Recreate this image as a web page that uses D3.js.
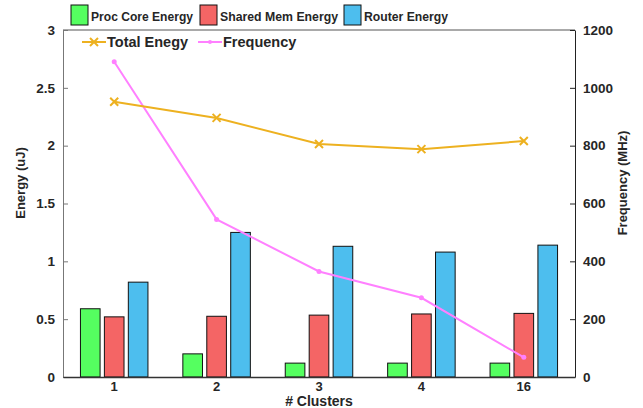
<!DOCTYPE html>
<html>
<head>
<meta charset="utf-8">
<script src="https://cdn.jsdelivr.net/npm/d3@7"></script>
<style>
  body { margin: 0; background: #fff; }
  text { font-family: 'Liberation Sans', Arial, Helvetica, sans-serif; font-weight: bold; fill: #262626; }
</style>
</head>
<body>
<div id="chart"></div>
<script>
// data
const clusters = ['1', '2', '3', '4', '16'];
const seriesNames = ['Proc Core Energy', 'Shared Mem Energy', 'Router Energy'];
const procCore = [0.59, 0.20, 0.12, 0.12, 0.12];
const sharedMem = [0.52, 0.525, 0.535, 0.545, 0.55];
const router = [0.82, 1.25, 1.13, 1.08, 1.14];
const totalEnergy = [2.38, 2.24, 2.015, 1.97, 2.04];
const frequency = [1090, 545, 365, 274, 68];
const energyTicks = [0, 0.5, 1, 1.5, 2, 2.5, 3];
const freqTicks = [0, 200, 400, 600, 800, 1000, 1200];

const config = {
  width: 643,
  height: 408,
  margin: { top: 30, right: 68, bottom: 31, left: 63 },
  colors: ['#55ff60', '#f46565', '#4dbeee'],
  totalColor: '#edb120',
  freqColor: '#ff80ff'
};

const svg = d3.select('#chart')
  .append('svg')
  .attr('width', config.width)
  .attr('height', config.height);

const plotL = config.margin.left;
const plotR = config.width - config.margin.right;
const plotT = config.margin.top;
const plotB = config.height - config.margin.bottom;

const x = d3.scaleBand().domain(clusters).range([plotL, plotR]).padding(0);
const groupW = 67.5;
const xSub = d3.scaleBand()
  .domain(seriesNames)
  .range([(x.bandwidth() - groupW) / 2, (x.bandwidth() + groupW) / 2])
  .paddingInner(0.18);
const yL = d3.scaleLinear().domain([0, 3]).range([plotB, plotT]);
const yR = d3.scaleLinear().domain([0, 1200]).range([plotB, plotT]);

const table = clusters.map((c, i) => ({
  cluster: c,
  values: [procCore[i], sharedMem[i], router[i]]
}));

// bars
const groups = svg.selectAll('g.group')
  .data(table)
  .enter()
  .append('g')
  .attr('class', 'group')
  .attr('transform', d => `translate(${x(d.cluster)},0)`);

groups.selectAll('rect')
  .data(d => d.values.map((v, k) => ({ name: seriesNames[k], value: v, k: k })))
  .enter()
  .append('rect')
  .attr('x', d => xSub(d.name))
  .attr('width', xSub.bandwidth())
  .attr('y', d => yL(d.value))
  .attr('height', d => yL(0) - yL(d.value))
  .style('fill', d => config.colors[d.k])
  .style('stroke', '#111')
  .style('stroke-width', 1);

// axes frame
svg.append('line').attr('x1', plotL).attr('x2', plotR).attr('y1', plotT).attr('y2', plotT)
  .style('stroke', '#555').style('stroke-width', 1);

const yAxisL = d3.axisLeft(yL).tickValues(energyTicks).tickSizeInner(-5).tickSizeOuter(0).tickPadding(8)
  .tickFormat(d => d3.format('')(d));
svg.append('g')
  .attr('class', 'axis yL')
  .attr('transform', `translate(${plotL},0)`)
  .call(yAxisL);

const yAxisR = d3.axisRight(yR).tickValues(freqTicks).tickSizeInner(-5).tickSizeOuter(0).tickPadding(8)
  .tickFormat(d3.format('d'));
svg.append('g')
  .attr('class', 'axis yR')
  .attr('transform', `translate(${plotR},0)`)
  .call(yAxisR);

const xAxis = d3.axisBottom(x).tickSize(0).tickPadding(5);
svg.append('g')
  .attr('class', 'axis x')
  .attr('transform', `translate(0,${plotB})`)
  .call(xAxis);

svg.selectAll('.axis text').style('font-size', '13.5px').style('fill', '#262626')
  .style('font-family', "'Liberation Sans', Arial, sans-serif");
svg.selectAll('.x text').style('font-size', '13px');
svg.selectAll('.yL .domain').style('stroke', '#777');
svg.selectAll('.yL .tick line').style('stroke', '#777');
svg.selectAll('.yR .domain, .yR .tick line').style('stroke', '#222');
svg.selectAll('.x .domain').style('stroke', '#333').style('stroke-width', 1.6);

// lines
const cx = d => x(d) + x.bandwidth() / 2;
const totalLine = d3.line().x((d, i) => cx(clusters[i])).y(d => yL(d));
const freqLine = d3.line().x((d, i) => cx(clusters[i])).y(d => yR(d));

svg.append('path')
  .datum(frequency)
  .attr('d', freqLine)
  .style('fill', 'none')
  .style('stroke', config.freqColor)
  .style('stroke-width', 2);
svg.selectAll('circle.freq')
  .data(frequency)
  .enter()
  .append('circle')
  .attr('class', 'freq')
  .attr('cx', (d, i) => cx(clusters[i]))
  .attr('cy', d => yR(d))
  .attr('r', 2.5)
  .style('fill', config.freqColor);

svg.append('path')
  .datum(totalEnergy)
  .attr('d', totalLine)
  .style('fill', 'none')
  .style('stroke', config.totalColor)
  .style('stroke-width', 2);
const cross = 'M-4,-4L4,4M4,-4L-4,4';
svg.selectAll('path.total')
  .data(totalEnergy)
  .enter()
  .append('path')
  .attr('class', 'total')
  .attr('d', cross)
  .attr('transform', (d, i) => `translate(${cx(clusters[i])},${yL(d)})`)
  .style('fill', 'none')
  .style('stroke', config.totalColor)
  .style('stroke-width', 2);

// top legend (bars)
const barLegend = [
  { name: seriesNames[0], x: 71, len: 102 },
  { name: seriesNames[1], x: 200, len: 118 },
  { name: seriesNames[2], x: 344, len: 84 }
];
const bl = svg.selectAll('g.bl')
  .data(barLegend)
  .enter()
  .append('g')
  .attr('class', 'bl')
  .attr('transform', d => `translate(${d.x},5)`);
bl.append('rect')
  .attr('width', 17)
  .attr('height', 20)
  .style('fill', (d, i) => config.colors[i])
  .style('stroke', '#111')
  .style('stroke-width', 1);
bl.append('text')
  .attr('x', 20)
  .attr('y', 15.5)
  .attr('textLength', d => d.len)
  .attr('lengthAdjust', 'spacingAndGlyphs')
  .style('font-size', '13.5px')
  .text(d => d.name);

// line legend
const lineLegend = [
  { name: 'Total Enegy', x: 82, color: config.totalColor, marker: 'cross' },
  { name: 'Frequency', x: 198, color: config.freqColor, marker: 'dot' }
];
const ll = svg.selectAll('g.ll')
  .data(lineLegend)
  .enter()
  .append('g')
  .attr('class', 'll')
  .attr('transform', d => `translate(${d.x},42)`);
ll.append('line')
  .attr('x1', 0).attr('x2', 24)
  .style('stroke', d => d.color)
  .style('stroke-width', 2);
ll.filter(d => d.marker === 'cross')
  .append('path')
  .attr('d', cross)
  .attr('transform', 'translate(12,0)')
  .style('stroke', d => d.color)
  .style('stroke-width', 2);
ll.filter(d => d.marker === 'dot')
  .append('circle')
  .attr('cx', 12)
  .attr('r', 2)
  .style('fill', d => d.color);
ll.append('text')
  .attr('x', 25)
  .attr('y', 5)
  .style('font-size', '14.5px')
  .text(d => d.name);

// axis titles
svg.append('text')
  .attr('transform', 'translate(25,183) rotate(-90)')
  .style('text-anchor', 'middle')
  .style('font-size', '13px')
  .text('Energy (uJ)');
svg.append('text')
  .attr('transform', 'translate(627,183) rotate(-90)')
  .style('text-anchor', 'middle')
  .style('font-size', '13px')
  .text('Frequency (MHz)');
svg.append('text')
  .attr('x', cx('3'))
  .attr('y', 406)
  .style('text-anchor', 'middle')
  .style('font-size', '14px')
  .text('# Clusters');
</script>
</body>
</html>
